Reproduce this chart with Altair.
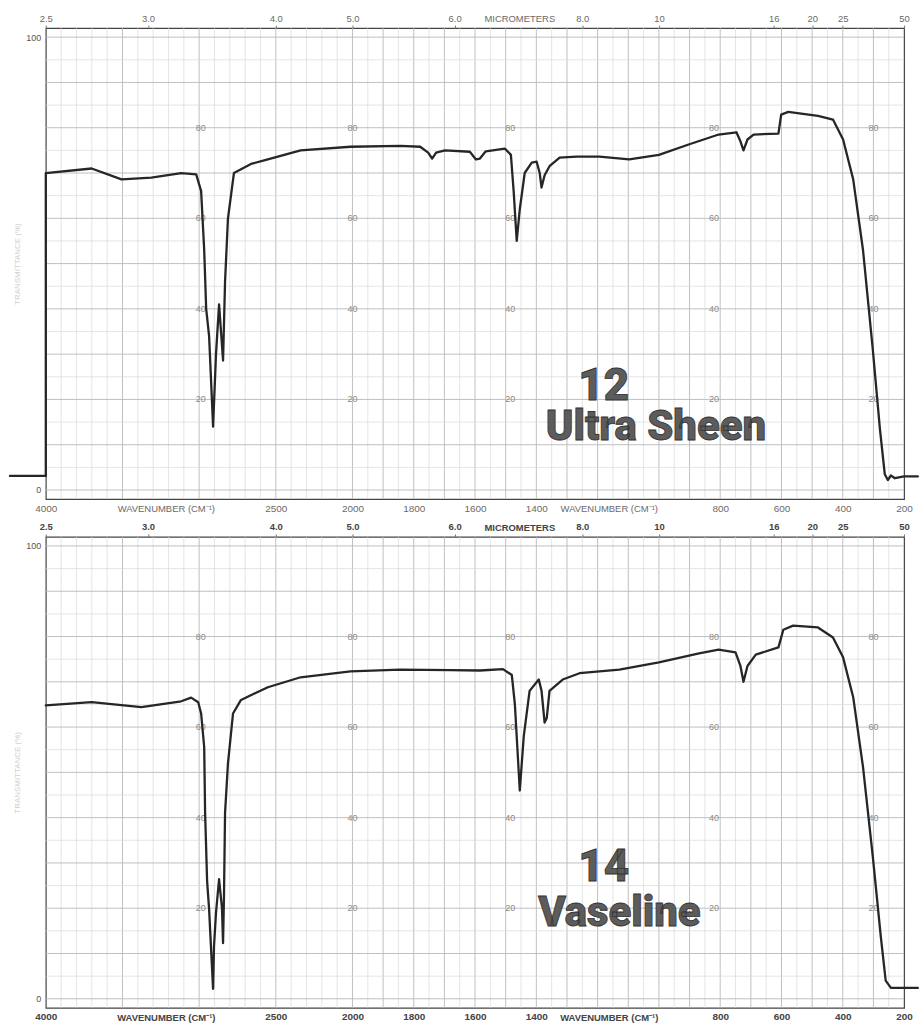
import altair as alt
import pandas as pd

# ---------------- data ----------------
# Sample 12: Ultra Sheen  (wavenumber cm-1, % transmittance) incl. pen trace at left
us_wn = [4234, 4000, 4000, 3701, 3506, 3312, 3117, 3019, 2987, 2967, 2954, 2935, 2909,
         2890, 2870, 2844, 2831, 2812, 2773, 2662, 2552, 2338, 2013, 1844, 1779, 1753,
         1740, 1727, 1698, 1617, 1597, 1584, 1565, 1503, 1483, 1474, 1464, 1454, 1438,
         1415, 1399, 1389, 1383, 1373, 1357, 1324, 1269, 1194, 1097, 1000, 903, 805,
         747, 734, 724, 711, 691, 610, 601, 578, 481, 432, 399, 366, 334, 302, 279,
         263, 253, 243, 230, 200, 155]
us_t = [3.1, 3.1, 70, 71, 68.6, 69, 70, 69.7, 66, 53, 40, 34, 14,
        30, 41, 28.6, 46, 60, 70, 72, 73, 75, 75.8, 76, 75.8, 74.5,
        73.2, 74.5, 75, 74.7, 73, 73.2, 74.8, 75.4, 74, 66, 55, 62, 70,
        72.3, 72.5, 70, 66.8, 69.5, 71.5, 73.4, 73.6, 73.6, 73, 74, 76.3, 78.5,
        79, 77, 75, 77.4, 78.5, 78.7, 82.9, 83.5, 82.6, 81.8, 77.4, 68.6, 53, 31, 13.6,
        3.5, 2.2, 3.2, 2.6, 3, 3]

# Sample 14: Vaseline
vs_wn = [4000, 3701, 3377, 3117, 3052, 3006, 2987, 2967, 2961, 2948, 2935, 2928, 2909,
         2903, 2890, 2870, 2851, 2844, 2838, 2831, 2812, 2779, 2727, 2552, 2338, 2013,
         1844, 1682, 1584, 1509, 1480, 1470, 1454, 1441, 1422, 1392, 1383, 1373, 1366,
         1357, 1314, 1259, 1129, 1000, 869, 805, 750, 734, 724, 711, 684, 610, 594,
         562, 481, 432, 399, 366, 334, 302, 276, 260, 243, 200, 155]
vs_t = [64.8, 65.5, 64.4, 65.7, 66.5, 65.5, 63, 55.6, 41, 26, 19.8, 15, 2.2,
        11.6, 19, 26.4, 20, 12.3, 22.6, 41, 52, 63, 66, 68.8, 71, 72.3,
        72.7, 72.6, 72.5, 72.8, 71.5, 65, 46, 58, 68, 70.5, 68, 61, 62,
        68, 70.5, 71.9, 72.7, 74.3, 76.3, 77.1, 76.5, 73.5, 70, 73.5, 76, 77.6, 81.5,
        82.4, 82, 79.8, 75.4, 66.6, 51.2, 31.4, 13.8, 4, 2.4, 2.4, 2.4]

# axis labels
wavenumber_ticks = [4000, 2500, 2000, 1800, 1600, 1400, 800, 600, 400, 200]
micrometer_ticks = [2.5, 3.0, 4.0, 5.0, 6.0, 8.0, 10, 16, 20, 25, 50]
inner_label_wn = [2990, 2000, 1485, 820, 300]
inner_label_vals = [80, 60, 40, 20]
wavenumber_title_wn = [3214, 1162]

# ---------------- scales ----------------
PW, PH = 862, 473
xscale = alt.Scale(domain=[4000, 2000, 200], range=[0, 308, PW], nice=False, zero=False)
yscale = alt.Scale(domain=[-2, 102], nice=False, zero=False)

v_minor = list(range(3900, 2000, -100)) + list(range(1950, 200, -50))
v_major = [3500, 3000, 2500, 2000] + list(range(1900, 200, -100))
v_minor = [w for w in v_minor if w not in v_major]
vgrid = pd.DataFrame({"wn": v_minor + v_major,
                      "kind": ["minor"] * len(v_minor) + ["major"] * len(v_major)})
h_vals = list(range(0, 101, 5))
hgrid = pd.DataFrame({"t": h_vals, "kind": ["major" if v % 10 == 0 else "minor" for v in h_vals]})

grid_color = alt.Color("kind:N", scale=alt.Scale(domain=["minor", "major"],
                                                  range=["#dadada", "#b9b9b9"]), legend=None)
grid_width = alt.StrokeWidth("kind:N", scale=alt.Scale(domain=["minor", "major"],
                                                        range=[0.7, 0.9]), legend=None)

inner = pd.DataFrame([{"wn": w, "t": v, "lab": str(v)}
                      for w in inner_label_wn for v in inner_label_vals])


def panel(wn, t, num, name, num_pos, name_pos, strong):
    lab_color = "#444" if strong else "#6a6a6a"
    lab_weight = "bold" if strong else "normal"
    top_axis = alt.Axis(orient="top", values=[10000 / m for m in micrometer_ticks],
                        labelExpr="datum.value > 1000 ? format(10000/datum.value, '.1f') : format(10000/datum.value, 'd')",
                        labelFontSize=9.5, labelColor=lab_color, labelFontWeight=lab_weight,
                        labelFont="Liberation Sans", tickSize=3, tickColor="#777",
                        labelPadding=2, domain=False, grid=False, labelFlush=False, title=None)
    bottom_axis = alt.Axis(orient="bottom", values=wavenumber_ticks, format="d",
                           labelFontSize=10, labelColor=lab_color, labelFontWeight=lab_weight,
                           labelFont="Liberation Sans", tickSize=0, labelPadding=4,
                           domain=False, grid=False, labelFlush=False, title=None)
    left_axis = alt.Axis(values=[0, 100], labelFontSize=9, labelColor="#555",
                         labelFont="Liberation Sans", tickSize=0, labelPadding=5,
                         domain=False, grid=False, title="TRANSMITTANCE (%)",
                         titleColor="#cfcfcf", titleFontSize=8, titleFontWeight="normal",
                         titlePadding=4)

    xn = alt.X("wn:Q", scale=xscale, axis=None)
    yn = alt.Y("t:Q", scale=yscale, axis=None)

    vg = alt.Chart(vgrid).mark_rule().encode(
        x=alt.X("wn:Q", scale=xscale, axis=top_axis), color=grid_color, strokeWidth=grid_width)
    hg = alt.Chart(hgrid).mark_rule().encode(
        y=alt.Y("t:Q", scale=yscale, axis=left_axis), color=grid_color, strokeWidth=grid_width)

    df = pd.DataFrame({"wn": wn, "t": t, "i": list(range(len(wn)))})
    line = alt.Chart(df).mark_line(color="#262626", strokeWidth=2.3,
                                   strokeJoin="round", strokeCap="round").encode(
        x=alt.X("wn:Q", scale=xscale, axis=bottom_axis),
        y=yn,
        order="i:Q")

    inn = alt.Chart(inner).mark_text(fontSize=9, color="#8a8a8a", font="Liberation Sans",
                                     baseline="middle", align="center").encode(
        x=xn, y=yn, text="lab:N")

    titles = pd.DataFrame({"wn": wavenumber_title_wn + [1454],
                           "t": [-4.2, -4.2, 104.0],
                           "lab": ["WAVENUMBER (CM⁻¹)", "WAVENUMBER (CM⁻¹)", "MICROMETERS"]})
    tt = alt.Chart(titles).mark_text(fontSize=9.5, color=lab_color, font="Liberation Sans",
                                     fontWeight=lab_weight, baseline="middle",
                                     align="center").encode(
        x=xn, y=yn, text="lab:N")

    big = pd.DataFrame({"wn": [num_pos[0], name_pos[0]], "t": [num_pos[1], name_pos[1]],
                        "lab": [num, name], "sz": [44, 42]})
    bt = alt.Chart(big).mark_text(font="Roboto", fontWeight=900, color="#5c5c5c",
                                  stroke="#333", strokeWidth=0.8,
                                  baseline="middle", align="center").encode(
        x=xn, y=yn, text="lab:N",
        size=alt.Size("sz:Q", scale=None, legend=None))

    return alt.layer(vg, hg, inn, tt, bt, line).resolve_axis(
        x="independent", y="independent").properties(width=PW, height=PH)


top = panel(us_wn, us_t, "12", "Ultra  Sheen", (1180, 22.8), (1010, 13.8), False)
bottom = panel(vs_wn, vs_t, "14", "Vaseline", (1180, 28.8), (1129, 18.9), True)

chart = alt.vconcat(top, bottom, spacing=38, bounds="flush").properties(
    padding={"left": 8, "top": 10, "right": 0, "bottom": 0},
    background="white"
).configure_view(stroke="#444", strokeWidth=1.2)

chart.save("out.html", embed_options={"renderer": "svg", "actions": False})
